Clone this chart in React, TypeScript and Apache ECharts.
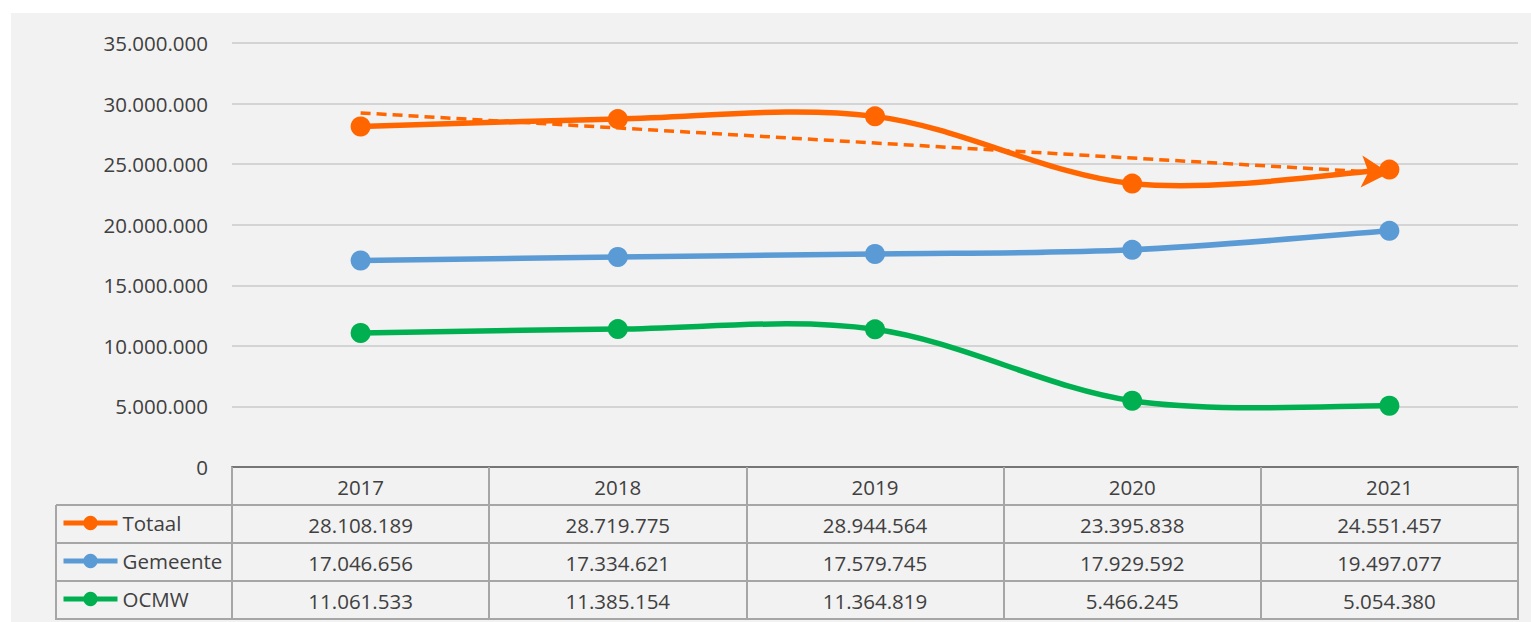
import React, { useEffect, useRef } from "react";
import * as echarts from "echarts";

const years = ["2017", "2018", "2019", "2020", "2021"];
const totaal = [28108189, 28719775, 28944564, 23395838, 24551457];
const gemeente = [17046656, 17334621, 17579745, 17929592, 19497077];
const ocmw = [11061533, 11385154, 11364819, 5466245, 5054380];
// linear trend of Totaal, end points
const trendTotaal = [29230000, 24260000];
const seriesNames = ["Totaal", "Gemeente", "OCMW"];
const colors = ["#FF6600", "#5B9BD5", "#00B050"];

const FONT = "Open Sans";
const TXT = "#404040";
const FS = 20.5;

const fmt = (n: number) => String(n).replace(/\B(?=(\d{3})+(?!\d))/g, ".");

export default function App() {
  const ref = useRef<HTMLDivElement>(null);
  useEffect(() => {
    if (!ref.current) return;
    const chart = echarts.init(ref.current, undefined, { renderer: "svg" });
    const rows = [totaal, gemeente, ocmw];
    const W = 1531;
    const tableLeft = 56;
    const tableRight = 1519;
    const rowYs = [505, 543, 581, 619];
    const lineStyle = { stroke: "#a6a6a6", lineWidth: 2 };
    const graphics: any[] = [
      { type: "rect", z: -10, silent: true, shape: { x: 11, y: 13, width: W - 11, height: 609 }, style: { fill: "#f2f2f2" } },
    ];
    rowYs.forEach((y) => {
      graphics.push({ type: "line", z: 5, silent: true, shape: { x1: tableLeft, y1: y, x2: tableRight, y2: y }, style: lineStyle });
    });
    graphics.push({ type: "line", z: 5, silent: true, shape: { x1: tableLeft, y1: rowYs[0], x2: tableLeft, y2: rowYs[3] + 1 }, style: lineStyle });

    const xAxes: any[] = [
      {
        type: "category",
        data: years,
        position: "bottom",
        boundaryGap: true,
        axisLine: { show: true, lineStyle: { color: "#767676", width: 2 } },
        axisTick: { show: true, interval: 0, length: 152, lineStyle: { color: "#a6a6a6", width: 2 } },
        axisLabel: { margin: 9, color: TXT, fontSize: FS, fontFamily: FONT },
        splitLine: { show: false },
      },
    ];
    rows.forEach((r, i) => {
      xAxes.push({
        type: "category",
        data: r.map(fmt),
        position: "bottom",
        offset: 38 * (i + 1),
        boundaryGap: true,
        axisLine: { show: false },
        axisTick: { show: false },
        axisLabel: { margin: 9, color: TXT, fontSize: FS, fontFamily: FONT, interval: 0 },
        splitLine: { show: false },
      });
    });

    const series: any[] = [];
    rows.forEach((arr, s) => {
      const n = arr.length;
      const segs = arr.slice(0, n - 1).map((v, i) => [i, v, arr[i + 1]]);
      series.push({
        type: "custom",
        name: seriesNames[s] + " curve",
        data: segs,
        encode: { x: 0, y: [1, 2] },
        z: 2,
        silent: true,
        renderItem: (params: any, api: any) => {
          const i = params.dataIndex;
          const pt = (k: number) => api.coord([k, arr[k]]);
          const p0 = pt(Math.max(i - 1, 0));
          const p1 = pt(i);
          const p2 = pt(i + 1);
          const p3 = pt(Math.min(i + 2, n - 1));
          return {
            type: "bezierCurve",
            shape: {
              x1: p1[0],
              y1: p1[1],
              x2: p2[0],
              y2: p2[1],
              cpx1: p1[0] + (p2[0] - p0[0]) / 6,
              cpy1: p1[1] + (p2[1] - p0[1]) / 6,
              cpx2: p2[0] - (p3[0] - p1[0]) / 6,
              cpy2: p2[1] - (p3[1] - p1[1]) / 6,
            },
            style: { stroke: colors[s], lineWidth: 5.5, fill: "none", lineCap: "round" },
          };
        },
      });
    });
    rows.forEach((r, i) => {
      series.push({
        name: seriesNames[i],
        type: "line",
        data: r,
        symbol: "circle",
        symbolSize: 20,
        z: 3,
        lineStyle: { color: colors[i], width: 5, opacity: 0 },
        itemStyle: { color: colors[i] },
      });
    });
    series[3].markLine = {
      silent: true,
      symbol: ["none", "arrow"],
      symbolSize: [24, 28],
      label: { show: false },
      lineStyle: { color: colors[0], width: 3.5, type: [10, 6], opacity: 1 },
      data: [[{ coord: [years[0], trendTotaal[0]] }, { coord: [years[4], trendTotaal[1]] }]],
    };

    chart.setOption({
      animation: false,
      backgroundColor: "#ffffff",
      textStyle: { fontFamily: FONT },
      grid: { left: 232, right: W - 1518, top: 43, bottom: 622 - 467, containLabel: false },
      xAxis: xAxes,
      yAxis: {
        type: "value",
        min: 0,
        max: 35000000,
        interval: 5000000,
        axisLine: { show: false },
        axisTick: { show: false },
        axisLabel: { margin: 24, color: TXT, fontSize: FS, fontFamily: FONT, formatter: (v: number) => fmt(v) },
        splitLine: { lineStyle: { color: "#d4d4d4", width: 2 } },
      },
      legend: {
        data: seriesNames,
        orient: "vertical",
        left: 56,
        top: 506,
        itemWidth: 54,
        itemHeight: 18,
        itemGap: 14,
        selectedMode: false,
        lineStyle: { width: 5, opacity: 1 },
        textStyle: { color: TXT, fontSize: FS, fontFamily: FONT, lineHeight: 24 },
      },
      graphic: graphics,
      series,
    });
    return () => chart.dispose();
  }, []);
  return <div ref={ref} style={{ position: "absolute", left: 0, top: 0, width: 1531, height: 622 }} />;
}
